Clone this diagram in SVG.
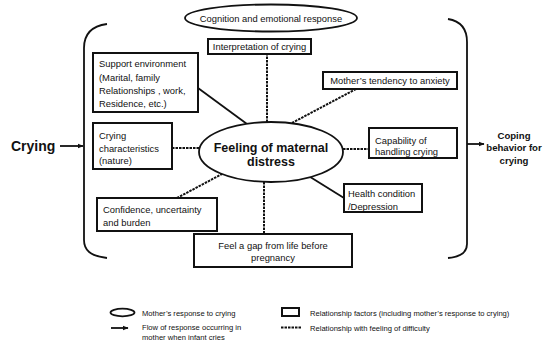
<svg xmlns="http://www.w3.org/2000/svg" width="550" height="342" viewBox="0 0 550 342">
<defs>
<style>
text{font-family:"Liberation Sans",Arial,sans-serif;fill:#111;}
.t{font-size:9.4px;}
.b{font-weight:bold;}
.lg{font-size:7.6px;}
.box{fill:#fff;stroke:#111;stroke-width:2;}
.ell{fill:#fff;stroke:#111;stroke-width:1.8;}
.dash{stroke:#111;stroke-width:2;stroke-dasharray:2.5,1;fill:none;}
.solid{stroke:#111;stroke-width:1.8;fill:none;}
.br{stroke:#111;stroke-width:1.8;fill:none;}
</style>
<marker id="ah" viewBox="0 0 10 10" refX="9" refY="5" markerWidth="6" markerHeight="6" orient="auto" markerUnits="userSpaceOnUse">
<path d="M0,1 L10,5 L0,9 z" fill="#111"/>
</marker>
</defs>
<rect width="550" height="342" fill="#fff"/>

<g id="brackets">
<path class="br" d="M107,24 C92,26 84,34 84,48 L84,240 C84,250 90,256 107,258"/>
<path class="br" d="M448,19 C460,21 467,28 467,42 L467,244 C467,252 460,257 448,258"/>
</g>

<g id="connectors">
<line class="solid" x1="60" y1="146" x2="83" y2="146" marker-end="url(#ah)"/>
<line class="solid" x1="467" y1="144" x2="484" y2="144" marker-end="url(#ah)"/>
<line class="dash" x1="267" y1="53" x2="267" y2="122"/>
<line class="solid" x1="198" y1="88" x2="247" y2="124"/>
<line class="dash" x1="356" y1="89" x2="290" y2="124"/>
<line class="dash" x1="172" y1="148" x2="200" y2="148"/>
<line class="dash" x1="343" y1="149" x2="369" y2="149"/>
<line class="solid" x1="307" y1="175" x2="344" y2="198"/>
<line class="dash" x1="177" y1="198" x2="222" y2="174"/>
<line class="dash" x1="264" y1="182" x2="264" y2="234"/>
</g>

<g id="crying-input">
<text class="b" x="11" y="151" font-size="14">Crying</text>
</g>

<g id="coping-output">
<text class="b" x="514" y="139" font-size="9.6" text-anchor="middle">Coping</text>
<text class="b" x="514" y="151" font-size="9.6" text-anchor="middle">behavior for</text>
<text class="b" x="514" y="164" font-size="9.6" text-anchor="middle">crying</text>
</g>

<g id="cognition">
<ellipse class="ell" cx="271" cy="18" rx="86" ry="13.5"/>
<text class="t" x="271" y="21.5" text-anchor="middle">Cognition and emotional response</text>
</g>

<g id="interpretation">
<rect class="box" x="208" y="39" width="103" height="15"/>
<text class="t" x="259.5" y="49.5" text-anchor="middle">Interpretation of crying</text>
</g>

<g id="support">
<rect class="box" x="93" y="53" width="105" height="59"/>
<text class="t" x="99" y="67">Support environment</text>
<text class="t" x="99" y="80.5">(Marital, family</text>
<text class="t" x="99" y="94">Relationships , work,</text>
<text class="t" x="99" y="107">Residence, etc.)</text>
</g>

<g id="anxiety">
<rect class="box" x="323" y="72" width="134" height="17"/>
<text class="t" x="390" y="84" text-anchor="middle">Mother’s tendency to anxiety</text>
</g>

<g id="characteristics">
<rect class="box" x="93" y="123" width="79" height="46"/>
<text class="t" x="99" y="139">Crying</text>
<text class="t" x="99" y="151.5">characteristics</text>
<text class="t" x="99" y="164">(nature)</text>
</g>

<g id="distress">
<ellipse class="ell" cx="271" cy="152" rx="72" ry="30"/>
<text class="b" x="271" y="151.5" font-size="12.5" text-anchor="middle">Feeling of maternal</text>
<text class="b" x="271" y="165.5" font-size="12.5" text-anchor="middle">distress</text>
</g>

<g id="capability">
<rect class="box" x="369" y="128" width="88" height="30"/>
<text class="t" x="375" y="143.5">Capability of</text>
<text class="t" x="375" y="155">handling crying</text>
</g>

<g id="health">
<rect class="box" x="344" y="184" width="78" height="28"/>
<text class="t" x="348" y="197">Health condition</text>
<text class="t" x="348" y="209.5">/Depression</text>
</g>

<g id="confidence">
<rect class="box" x="97" y="198" width="120" height="33"/>
<text class="t" x="103" y="213">Confidence, uncertainty</text>
<text class="t" x="103" y="226">and burden</text>
</g>

<g id="gap">
<rect class="box" x="194" y="234" width="158" height="33"/>
<text class="t" x="273" y="249" text-anchor="middle">Feel a gap from life before</text>
<text class="t" x="273" y="261" text-anchor="middle">pregnancy</text>
</g>

<g id="legend">
<ellipse cx="122.5" cy="312.5" rx="12" ry="3.8" fill="#fff" stroke="#111" stroke-width="1.8"/>
<text class="lg" x="142" y="315.5">Mother’s response to crying</text>
<line class="solid" x1="111" y1="328" x2="128" y2="328" marker-end="url(#ah)"/>
<text class="lg" x="142" y="329.5">Flow of response occurring in</text>
<text class="lg" x="142" y="339.5">mother when infant cries</text>
<rect x="282" y="308" width="17" height="8" fill="#fff" stroke="#111" stroke-width="2"/>
<text class="lg" x="310" y="315.5">Relationship factors (including mother’s response to crying)</text>
<line class="dash" x1="281" y1="327.5" x2="301" y2="327.5"/>
<text class="lg" x="310" y="330.5">Relationship with feeling of difficulty</text>
</g>
</svg>
